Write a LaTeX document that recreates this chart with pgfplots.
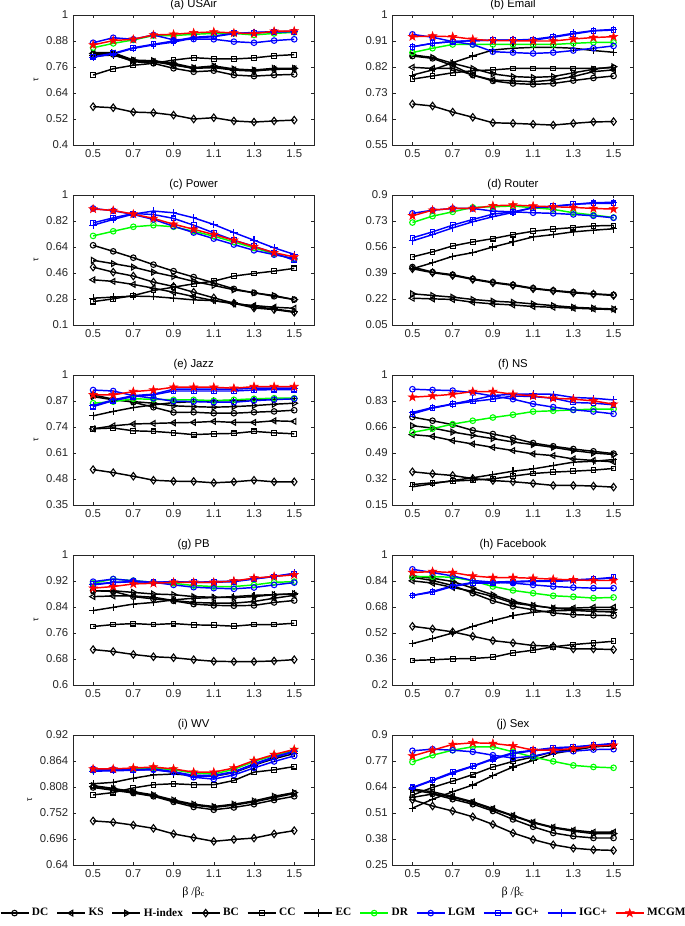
\documentclass[border=0pt]{standalone}
\usepackage{fontspec}
\setmainfont{Liberation Sans}
\newfontfamily\legfont{Liberation Serif}
\usepackage{pgfplots}
\usepackage{pgfplotstable}
\pgfplotsset{compat=1.18}
\usepgfplotslibrary{groupplots}

\pgfdeclareplotmark{pentagram}{%
 \pgfpathmoveto{\pgfpointpolar{90}{\pgfplotmarksize}}%
 \pgfpathlineto{\pgfpointpolar{126}{0.382\pgfplotmarksize}}%
 \pgfpathlineto{\pgfpointpolar{162}{\pgfplotmarksize}}%
 \pgfpathlineto{\pgfpointpolar{198}{0.382\pgfplotmarksize}}%
 \pgfpathlineto{\pgfpointpolar{234}{\pgfplotmarksize}}%
 \pgfpathlineto{\pgfpointpolar{270}{0.382\pgfplotmarksize}}%
 \pgfpathlineto{\pgfpointpolar{306}{\pgfplotmarksize}}%
 \pgfpathlineto{\pgfpointpolar{342}{0.382\pgfplotmarksize}}%
 \pgfpathlineto{\pgfpointpolar{18}{\pgfplotmarksize}}%
 \pgfpathlineto{\pgfpointpolar{54}{0.382\pgfplotmarksize}}%
 \pgfpathclose
 \pgfusepathqfillstroke}

% columns: x DC KS H BC CC EC DR LGM GC IGC MC
\pgfplotstableread{
x DC KS H BC CC EC DR LGM GC IGC MC
0.5 .818 .823 .826 .577 .723 .811 .849 .872 .808 .805 .862
0.6 .818 .823 .826 .572 .752 .815 .869 .895 .823 .820 .882
0.7 .785 .789 .792 .552 .768 .788 .885 .888 .849 .846 .888
0.8 .777 .785 .789 .549 .777 .785 .905 .908 .865 .862 .908
0.9 .754 .769 .777 .538 .792 .772 .905 .885 .880 .875 .911
1.0 .738 .754 .757 .520 .803 .754 .911 .889 .897 .894 .918
1.1 .743 .762 .765 .526 .798 .757 .915 .888 .903 .900 .922
1.2 .723 .746 .751 .511 .797 .746 .915 .877 .915 .914 .917
1.3 .718 .742 .746 .506 .802 .742 .908 .872 .918 .920 .914
1.4 .723 .749 .754 .511 .812 .751 .915 .882 .922 .923 .925
1.5 .726 .751 .754 .515 .817 .751 .920 .888 .923 .925 .926
}\tabA
\pgfplotstableread{
x DC KS H BC CC EC DR LGM GC IGC MC
0.5 .858 .819 .862 .692 .778 .792 .870 .933 .890 .890 .925
0.6 .850 .815 .853 .685 .789 .810 .885 .923 .902 .902 .927
0.7 .825 .815 .833 .664 .800 .835 .898 .908 .908 .908 .925
0.8 .792 .792 .815 .646 .807 .858 .898 .898 .911 .911 .916
0.9 .772 .775 .796 .627 .810 .879 .898 .873 .913 .913 .911
1.0 .763 .772 .787 .625 .815 .885 .898 .870 .913 .913 .911
1.1 .760 .769 .784 .622 .815 .888 .898 .867 .913 .916 .910
1.2 .763 .775 .787 .619 .815 .888 .898 .870 .923 .925 .910
1.3 .773 .787 .800 .625 .815 .885 .902 .877 .934 .937 .917
1.4 .782 .804 .812 .630 .815 .877 .905 .885 .945 .946 .922
1.5 .789 .810 .821 .631 .818 .871 .905 .893 .948 .950 .925
}\tabB
\pgfplotstableread{
x DC KS H BC CC EC DR LGM GC IGC MC
0.5 .652 .413 .548 .501 .262 .286 .717 .907 .807 .791 .903
0.6 .610 .402 .525 .466 .281 .293 .749 .891 .842 .831 .893
0.7 .566 .381 .501 .439 .304 .300 .780 .865 .872 .868 .868
0.8 .518 .355 .466 .397 .339 .297 .791 .831 .865 .889 .838
0.9 .473 .327 .436 .367 .362 .286 .780 .784 .838 .877 .798
1.0 .432 .297 .402 .327 .385 .274 .749 .740 .791 .842 .763
1.1 .392 .269 .374 .288 .404 .269 .715 .698 .738 .796 .726
1.2 .350 .246 .344 .251 .439 .253 .675 .657 .687 .740 .687
1.3 .323 .235 .323 .218 .457 .228 .634 .617 .645 .687 .643
1.4 .299 .223 .304 .207 .473 .211 .594 .587 .599 .634 .601
1.5 .276 .216 .276 .188 .492 .193 .555 .560 .548 .589 .571
}\tabC
\pgfplotstableread{
x DC KS H BC CC EC DR LGM GC IGC MC
0.5 .429 .225 .254 .418 .495 .418 .720 .780 .620 .600 .764
0.6 .396 .221 .243 .392 .528 .457 .762 .801 .659 .641 .801
0.7 .379 .217 .232 .374 .567 .499 .790 .812 .703 .685 .812
0.8 .352 .199 .217 .348 .593 .523 .819 .812 .740 .725 .812
0.9 .330 .188 .206 .326 .615 .560 .823 .795 .775 .758 .830
1.0 .313 .181 .199 .309 .641 .593 .828 .790 .790 .786 .834
1.1 .291 .171 .188 .287 .663 .626 .817 .784 .817 .817 .828
1.2 .276 .166 .177 .273 .677 .641 .806 .780 .828 .823 .823
1.3 .265 .160 .166 .260 .687 .659 .784 .773 .839 .839 .819
1.4 .254 .155 .160 .252 .698 .670 .769 .764 .845 .850 .812
1.5 .247 .151 .155 .243 .701 .679 .753 .751 .845 .852 .808
}\tabD
\pgfplotstableread{
x DC KS H BC CC EC DR LGM GC IGC MC
0.5 .901 .731 .892 .527 .731 .796 .859 .925 .842 .847 .901
0.6 .879 .746 .876 .512 .735 .818 .867 .920 .872 .876 .901
0.7 .864 .755 .867 .494 .721 .837 .881 .897 .892 .897 .917
0.8 .839 .758 .859 .474 .718 .851 .879 .884 .901 .904 .925
0.9 .813 .761 .846 .469 .711 .862 .876 .869 .920 .929 .939
1.0 .814 .763 .842 .468 .702 .867 .876 .867 .920 .929 .939
1.1 .809 .768 .839 .461 .706 .871 .872 .864 .920 .929 .939
1.2 .809 .763 .842 .466 .708 .872 .876 .864 .920 .929 .934
1.3 .814 .763 .847 .474 .718 .877 .881 .872 .925 .934 .942
1.4 .818 .771 .854 .466 .711 .879 .884 .877 .927 .934 .942
1.5 .824 .768 .859 .466 .706 .881 .884 .881 .927 .934 .942
}\tabE
\pgfplotstableread{
x DC KS H BC CC EC DR LGM GC IGC MC
0.5 .725 .610 .668 .367 .284 .269 .625 .907 .746 .755 .855
0.6 .701 .599 .653 .354 .295 .289 .649 .902 .783 .787 .863
0.7 .675 .571 .627 .343 .306 .310 .679 .898 .809 .811 .874
0.8 .638 .549 .605 .323 .313 .328 .701 .885 .827 .837 .892
0.9 .614 .527 .584 .310 .321 .349 .722 .863 .842 .866 .892
1.0 .588 .506 .562 .302 .339 .371 .740 .842 .863 .874 .874
1.1 .555 .484 .545 .291 .356 .386 .761 .811 .859 .876 .863
1.2 .534 .473 .527 .278 .365 .408 .766 .790 .848 .874 .848
1.3 .516 .451 .506 .278 .371 .430 .772 .772 .820 .853 .842
1.4 .501 .441 .490 .274 .378 .436 .777 .761 .816 .848 .831
1.5 .486 .432 .480 .267 .389 .447 .777 .746 .805 .837 .809
}\tabF
\pgfplotstableread{
x DC KS H BC CC EC DR LGM GC IGC MC
0.5 .890 .872 .890 .709 .780 .829 .913 .918 .910 .908 .898
0.6 .888 .874 .890 .703 .786 .839 .926 .926 .916 .915 .903
0.7 .872 .874 .885 .694 .789 .849 .921 .921 .918 .918 .911
0.8 .865 .870 .880 .687 .786 .854 .916 .916 .916 .916 .913
0.9 .859 .860 .878 .684 .789 .862 .913 .908 .918 .918 .916
1.0 .849 .854 .872 .678 .785 .867 .906 .901 .916 .916 .916
1.1 .845 .852 .870 .673 .784 .869 .903 .898 .916 .918 .916
1.2 .844 .852 .869 .672 .781 .872 .903 .896 .918 .920 .920
1.3 .845 .857 .872 .672 .786 .876 .908 .900 .926 .927 .929
1.4 .854 .867 .878 .674 .786 .878 .916 .908 .934 .934 .934
1.5 .860 .876 .881 .678 .790 .880 .918 .915 .942 .944 .939
}\tabG
\pgfplotstableread{
x DC KS H BC CC EC DR LGM GC IGC MC
0.5 .863 .841 .871 .561 .351 .455 .867 .912 .751 .751 .892
0.6 .843 .827 .857 .545 .355 .486 .867 .892 .771 .776 .898
0.7 .812 .800 .837 .527 .361 .520 .863 .871 .806 .810 .892
0.8 .765 .776 .796 .500 .363 .561 .841 .843 .827 .831 .871
0.9 .718 .745 .755 .473 .371 .596 .806 .833 .827 .833 .861
1.0 .684 .704 .714 .459 .398 .627 .782 .827 .833 .837 .861
1.1 .663 .688 .690 .443 .414 .647 .765 .816 .837 .841 .857
1.2 .643 .673 .673 .439 .435 .657 .749 .806 .837 .841 .851
1.3 .633 .673 .663 .422 .449 .659 .743 .800 .843 .847 .847
1.4 .629 .678 .663 .422 .459 .653 .735 .796 .851 .853 .843
1.5 .627 .678 .663 .418 .469 .649 .739 .796 .863 .857 .843
}\tabH
\pgfplotstableread{
x DC KS H BC CC EC DR LGM GC IGC MC
0.5 .807 .809 .811 .735 .791 .815 .844 .847 .844 .842 .847
0.6 .801 .804 .805 .732 .796 .818 .845 .846 .844 .843 .847
0.7 .795 .796 .798 .726 .806 .827 .847 .845 .845 .844 .849
0.8 .788 .789 .791 .719 .813 .834 .849 .845 .847 .846 .851
0.9 .776 .778 .780 .707 .815 .836 .845 .840 .841 .840 .847
1.0 .765 .769 .771 .699 .813 .833 .838 .829 .833 .831 .840
1.1 .759 .764 .766 .691 .813 .831 .836 .825 .833 .831 .840
1.2 .764 .769 .771 .695 .822 .839 .846 .834 .841 .840 .849
1.3 .771 .776 .778 .698 .840 .855 .863 .849 .858 .856 .865
1.4 .780 .785 .788 .707 .845 .869 .876 .863 .873 .871 .878
1.5 .788 .794 .796 .714 .852 .880 .887 .875 .885 .884 .889
}\tabI
\pgfplotstableread{
x DC KS H BC CC EC DR LGM GC IGC MC
0.5 .588 .630 .625 .576 .599 .534 .765 .821 .638 .635 .795
0.6 .605 .616 .608 .545 .638 .579 .799 .829 .675 .672 .824
0.7 .579 .593 .588 .520 .669 .616 .824 .824 .714 .709 .853
0.8 .554 .566 .562 .491 .702 .650 .841 .816 .745 .743 .861
0.9 .520 .532 .528 .453 .740 .697 .841 .799 .782 .778 .858
1.0 .478 .498 .495 .410 .768 .740 .816 .785 .811 .807 .846
1.1 .441 .464 .461 .377 .790 .773 .790 .794 .824 .821 .824
1.2 .410 .439 .436 .351 .816 .807 .768 .816 .836 .832 .824
1.3 .394 .424 .419 .334 .829 .824 .748 .819 .841 .838 .832
1.4 .385 .414 .407 .326 .841 .841 .740 .827 .849 .846 .844
1.5 .385 .414 .407 .323 .846 .849 .736 .829 .858 .853 .849
}\tabJ

\newcommand{\allplots}[1]{%
\addplot[black,line width=1.1pt,mark=o,mark size=2.1pt,mark options={solid,line width=0.8pt}] table[x=x,y=DC]{#1};
\addplot[black,line width=1.1pt,mark=triangle,mark size=2.5pt,mark options={solid,line width=0.8pt,rotate=90}] table[x=x,y=KS]{#1};
\addplot[black,line width=1.1pt,mark=triangle,mark size=2.5pt,mark options={solid,line width=0.8pt,rotate=-90}] table[x=x,y=H]{#1};
\addplot[black,line width=1.1pt,mark=diamond,mark size=2.8pt,mark options={solid,line width=0.8pt}] table[x=x,y=BC]{#1};
\addplot[black,line width=1.1pt,mark=square,mark size=1.8pt,mark options={solid,line width=0.8pt}] table[x=x,y=CC]{#1};
\addplot[black,line width=1.1pt,mark=+,mark size=2.8pt,mark options={solid,line width=0.8pt}] table[x=x,y=EC]{#1};
\addplot[green,line width=1.1pt,mark=o,mark size=2.1pt,mark options={solid,line width=0.8pt}] table[x=x,y=DR]{#1};
\addplot[blue,line width=1.1pt,mark=o,mark size=2.1pt,mark options={solid,line width=0.8pt}] table[x=x,y=LGM]{#1};
\addplot[blue,line width=1.1pt,mark=square,mark size=1.8pt,mark options={solid,line width=0.8pt}] table[x=x,y=GC]{#1};
\addplot[blue,line width=1.1pt,mark=+,mark size=2.8pt,mark options={solid,line width=0.8pt}] table[x=x,y=IGC]{#1};
\addplot[red,line width=1.1pt,mark=pentagram,mark size=3.3pt,mark options={solid,fill=red,line width=0.4pt}] table[x=x,y=MC]{#1};
}

\begin{document}
\begin{tikzpicture}
\begin{groupplot}[
  group style={group size=2 by 5, horizontal sep=58.5pt, vertical sep=37.5pt, group name=G},
  width=181pt, height=97.5pt, scale only axis,
  xmin=0.4, xmax=1.6, xtick={0.5,0.7,0.9,1.1,1.3,1.5},
  tick align=inside, major tick length=2.5pt,
  axis line style={black!85, line width=0.4pt},
  tick style={black!85, line width=0.4pt},
  tick label style={font=\fontsize{8.5}{10}\selectfont, text=black!85},
  /pgf/number format/assume math mode=true,
  xticklabel style={/pgf/number format/fixed,/pgf/number format/precision=1, /pgf/number format/fixed zerofill},
  yticklabel style={/pgf/number format/fixed,/pgf/number format/precision=3},
  title style={font=\fontsize{8.5}{10}\selectfont, yshift=-5.5pt},
  ylabel style={font=\fontsize{6.5}{7}\selectfont, yshift=-1pt},
  xlabel style={font=\legfont\fontsize{9}{10}\selectfont},
  legend image code/.code={\draw[mark repeat=2,mark phase=2] plot coordinates {(0cm,0cm) (0.37cm,0cm) (0.74cm,0cm)};},
]
\nextgroupplot[title={(a) USAir}, ymin=0.4, ymax=1, ytick={0.4,0.52,0.64,0.76,0.88,1}, ylabel={τ}]
\allplots{\tabA}
\nextgroupplot[title={(b) Email}, ymin=0.55, ymax=1, ytick={0.55,0.64,0.73,0.82,0.91,1}]
\allplots{\tabB}
\nextgroupplot[title={(c) Power}, ymin=0.1, ymax=1, ytick={0.1,0.28,0.46,0.64,0.82,1}, ylabel={τ}]
\allplots{\tabC}
\nextgroupplot[title={(d) Router}, ymin=0.05, ymax=0.9, ytick={0.05,0.22,0.39,0.56,0.73,0.9}]
\allplots{\tabD}
\nextgroupplot[title={(e) Jazz}, ymin=0.35, ymax=1, ytick={0.35,0.48,0.61,0.74,0.87,1}, ylabel={τ}]
\allplots{\tabE}
\nextgroupplot[title={(f) NS}, ymin=0.15, ymax=1, ytick={0.15,0.32,0.49,0.66,0.83,1}]
\allplots{\tabF}
\nextgroupplot[title={(g) PB}, ymin=0.6, ymax=1, ytick={0.6,0.68,0.76,0.84,0.92,1}, ylabel={τ}]
\allplots{\tabG}
\nextgroupplot[title={(h) Facebook}, ymin=0.2, ymax=1, ytick={0.2,0.36,0.52,0.68,0.84,1}]
\allplots{\tabH}
\nextgroupplot[title={(i) WV}, ymin=0.64, ymax=0.92, ytick={0.64,0.696,0.752,0.808,0.864,0.92}, ylabel={τ},
  xlabel={β /β\textsubscript{c}},
  legend columns=11,
  legend style={at={(1.123,-0.37)}, anchor=center, draw=none, fill=none,
    font=\legfont\bfseries\fontsize{8.5}{10}\selectfont,
    /tikz/every even column/.append style={column sep=4pt},
    nodes={inner xsep=2pt}}]
\allplots{\tabI}
\legend{DC,KS,H-index,BC,CC,EC,DR,LGM,GC+,IGC+,MCGM}
\nextgroupplot[title={(j) Sex}, ymin=0.25, ymax=0.9, ytick={0.25,0.38,0.51,0.64,0.77,0.9},
  xlabel={β /β\textsubscript{c}}]
\allplots{\tabJ}
\end{groupplot}
\pgfresetboundingbox
\path[use as bounding box] ([shift={(-54.75pt,11.25pt)}]G c1r1.north west) rectangle ([shift={(459pt,-683.25pt)}]G c1r1.north west);
\end{tikzpicture}
\end{document}
